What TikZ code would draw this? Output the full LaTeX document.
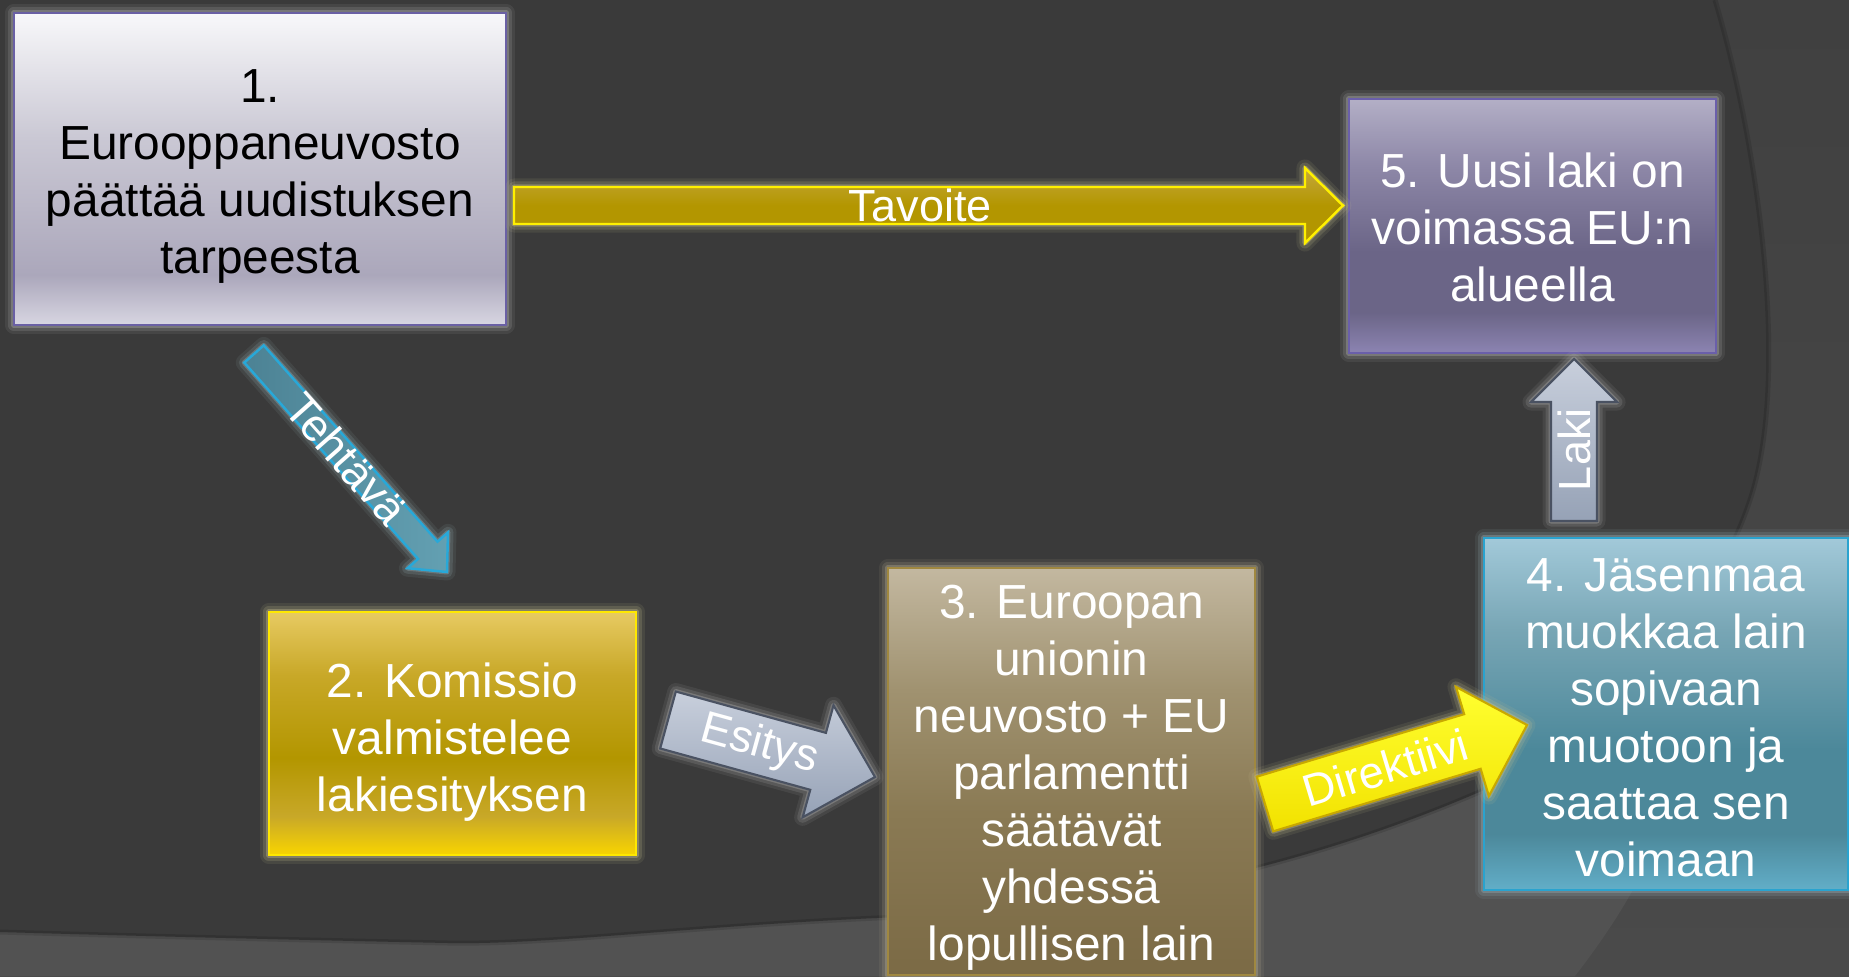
\documentclass[tikz,border=0pt]{standalone}
\usepackage{fontspec}
\setmainfont{Liberation Sans}
\usetikzlibrary{calc}
\definecolor{bgtop}{HTML}{404040}
\definecolor{bgbot}{HTML}{4A4A4A}
\definecolor{bglight}{HTML}{525252}
\definecolor{bgdark}{HTML}{3A3A3A}
% box 1
\definecolor{b1a}{HTML}{F8F8FA}\definecolor{b1b}{HTML}{CAC8D4}\definecolor{b1c}{HTML}{ABA7BB}\definecolor{b1d}{HTML}{D8D6E2}
\definecolor{b1line}{HTML}{6A60A4}
% box 5
\definecolor{b5a}{HTML}{B3AFC6}\definecolor{b5b}{HTML}{8E88A8}\definecolor{b5c}{HTML}{6B6587}\definecolor{b5d}{HTML}{8C84B2}
\definecolor{b5line}{HTML}{6A5FAA}
% box 2
\definecolor{b2a}{HTML}{E7CA62}\definecolor{b2b}{HTML}{C8A828}\definecolor{b2c}{HTML}{B39600}\definecolor{b2d}{HTML}{F9D500}
\definecolor{b2line}{HTML}{FFE800}
% box 3
\definecolor{b3a}{HTML}{C3B8A0}\definecolor{b3b}{HTML}{A09270}\definecolor{b3c}{HTML}{8A7A54}\definecolor{b3d}{HTML}{7B6A45}
\definecolor{b3line}{HTML}{A08840}
% box 4
\definecolor{b4a}{HTML}{A2C9D9}\definecolor{b4b}{HTML}{78A6B5}\definecolor{b4c}{HTML}{4C889A}\definecolor{b4d}{HTML}{62AEC8}
\definecolor{b4line}{HTML}{2AA3CF}
% arrows
\definecolor{gold}{HTML}{B39600}\definecolor{goldtop}{HTML}{C4A83C}\definecolor{goldline}{HTML}{FFF000}
\definecolor{teal}{HTML}{4C8294}\definecolor{teallight}{HTML}{63A0B2}\definecolor{tealline}{HTML}{28A8D8}
\definecolor{steela}{HTML}{C8CFDC}\definecolor{steelb}{HTML}{96A2B6}\definecolor{steelline}{HTML}{4A5262}
\definecolor{yela}{HTML}{FFFF30}\definecolor{yelb}{HTML}{F2E200}\definecolor{yelline}{HTML}{C8A800}
\definecolor{glowgray}{HTML}{B4B4B4}
\definecolor{glowyel}{HTML}{CCC490}
\definecolor{glowbrown}{HTML}{B8AE90}
\definecolor{glowblue}{HTML}{9AB0B8}

\pgfdeclareverticalshading{shboxa}{100bp}{color(0bp)=(b1d); color(25bp)=(b1d); color(33bp)=(b1c); color(55bp)=(b1b); color(75bp)=(b1a); color(100bp)=(b1a)}
\pgfdeclareverticalshading{shboxe}{100bp}{color(0bp)=(b5d); color(25bp)=(b5d); color(33bp)=(b5c); color(45bp)=(b5c); color(62bp)=(b5b); color(75bp)=(b5a); color(100bp)=(b5a)}
\pgfdeclareverticalshading{shboxb}{100bp}{color(0bp)=(b2d); color(25bp)=(b2d); color(33bp)=(b2b); color(45bp)=(b2c); color(62bp)=(b2b); color(75bp)=(b2a); color(100bp)=(b2a)}
\pgfdeclareverticalshading{shboxc}{100bp}{color(0bp)=(b3d); color(25bp)=(b3d); color(45bp)=(b3c); color(60bp)=(b3b); color(75bp)=(b3a); color(100bp)=(b3a)}
\pgfdeclareverticalshading{shboxd}{100bp}{color(0bp)=(b4d); color(25bp)=(b4d); color(33bp)=(b4c); color(45bp)=(b4c); color(62bp)=(b4b); color(75bp)=(b4a); color(100bp)=(b4a)}

% lowered centred block of lines (keeps the node size)
\newcommand\lowtext[2]{\raisebox{-#1}[\height][\depth]{\begin{tabular}{@{}c@{}}#2\end{tabular}}}

\tikzset{
  glow/.style={preaction={draw=#1,line width=0.17cm,opacity=0.10,line join=round},
               preaction={draw=#1,line width=0.11cm,opacity=0.18,line join=round},
               preaction={draw=#1,line width=0.05cm,opacity=0.35,line join=round}},
  box/.style={rectangle, inner sep=0pt, line width=0.6pt, text=white,
              font=\fontsize{13.6pt}{16.2pt}\selectfont},
  arrtxt/.style={text=white, inner sep=0pt, font=\fontsize{12.8pt}{15pt}\selectfont},
  tavoitearrow/.style={glow=glowyel, top color=goldtop, bottom color=gold, middle color=gold, draw=goldline, line width=0.7pt},
  tehtavaarrow/.style={glow=glowblue, left color=teal, right color=teallight, draw=tealline, line width=0.7pt},
  steelarrow/.style={glow=glowgray, top color=steela, bottom color=steelb, draw=steelline, line width=0.6pt},
  yelarrow/.style={glow=glowyel, top color=yela, bottom color=yelb, draw=yelline, line width=0.6pt},
}

% #1 style, #2 tail, #3 tip, #4 half shaft, #5 half head, #6 head length, #7 label name, #8 label position, #9 text
\newcommand\blockarrow[9]{%
  \coordinate (ba-b) at ($(#3)!#6!(#2)$);
  \path[#1] ($(#2)!#4!90:(#3)$) -- ($(ba-b)!#4!-90:(#2)$) -- ($(ba-b)!#5!-90:(#2)$) -- (#3)
     -- ($(ba-b)!#5!90:(#2)$) -- ($(ba-b)!#4!90:(#2)$) -- ($(#2)!#4!-90:(#3)$) -- cycle;
  \path let \p1=($(#3)-(#2)$), \n1={atan2(\y1,\x1)} in
     node[arrtxt, rotate=\n1] (#7) at ($(#2)!#8!(#3)$) {#9};
}

\begin{document}
\begin{tikzpicture}[x=0.01cm,y=-0.01cm]
\useasboundingbox (0,0) rectangle (1849,976);
\clip (0,0) rectangle (1849,976);
% background
\shade[top color=bgtop, bottom color=bgbot] (0,0) rectangle (1849,976);
\fill[bglight] (0,600) -- (1690,600) .. controls (1700,760) and (1665,860) .. (1575,976) -- (0,976) -- cycle;
\fill[bgdark] (0,0) -- (1715,0) .. controls (1760,150) and (1790,380) .. (1750,500)
   .. controls (1710,620) and (1610,720) .. (1484,790)
   .. controls (1300,870) and (1100,912) .. (900,917)
   .. controls (700,925) and (550,945) .. (448,943)
   .. controls (300,940) and (100,935) .. (0,932) -- cycle;
\draw[black, opacity=0.12, line width=0.05cm] (1715,0) .. controls (1760,150) and (1790,380) .. (1750,500)
   .. controls (1710,620) and (1610,720) .. (1484,790)
   .. controls (1300,870) and (1100,912) .. (900,917)
   .. controls (700,925) and (550,945) .. (448,943)
   .. controls (300,940) and (100,935) .. (0,932);

% boxes
\node[box, glow=glowgray, shading=shboxa, draw=b1line, text=black,
      minimum width=4.92cm, minimum height=3.12cm] (n1) at (260,169)
  {\lowtext{0.075cm}{1.\\Eurooppaneuvosto\\päättää uudistuksen\\tarpeesta}};
\node[box, glow=glowgray, shading=shboxe, draw=b5line,
      minimum width=3.67cm, minimum height=2.54cm] (n5) at (1532.5,226)
  {\lowtext{0.07cm}{5. Uusi laki on\\voimassa EU:n\\alueella}};
\node[box, glow=glowyel, shading=shboxb, draw=b2line,
      minimum width=3.67cm, minimum height=2.43cm] (n2) at (452.5,733.5)
  {\lowtext{0.10cm}{2. Komissio\\valmistelee\\lakiesityksen}};
\node[box, glow=glowbrown, shading=shboxc, draw=b3line,
      minimum width=3.67cm, minimum height=4.07cm] (n3) at (1071.5,771.5)
  {\lowtext{0.07cm}{3. Euroopan\\unionin\\neuvosto + EU\\parlamentti\\säätävät\\yhdessä\\lopullisen lain}};
\node[box, glow=glowblue, shading=shboxd, draw=b4line,
      minimum width=3.64cm, minimum height=3.52cm] (n4) at (1666,714)
  {\lowtext{0.085cm}{4. Jäsenmaa\\muokkaa lain\\sopivaan\\muotoon ja\\saattaa sen\\voimaan}};

% arrow end points
\coordinate (t1) at (514,205.5);  \coordinate (p1) at (1343,205.5);
\coordinate (t2) at (254,354);    \coordinate (p2) at (447,572);
\coordinate (t3) at (668,720);    \coordinate (p3) at (875,777);
\coordinate (t4) at (1265,804);   \coordinate (p4) at (1527,725);
\coordinate (t5) at (1574,521);   \coordinate (p5) at (1574,359);

\blockarrow{tavoitearrow}{t1}{p1}{0.185cm}{0.375cm}{0.38cm}{l1}{0.49}{Tavoite}
\blockarrow{tehtavaarrow}{t2}{p2}{0.13cm}{0.27cm}{0.29cm}{l2}{0.48}{Tehtävä}
\blockarrow{steelarrow}{t3}{p3}{0.295cm}{0.58cm}{0.59cm}{l3}{0.44}{Esitys}
\blockarrow{yelarrow}{t4}{p4}{0.285cm}{0.57cm}{0.57cm}{l4}{0.46}{Direktiivi}
\blockarrow{steelarrow}{t5}{p5}{0.23cm}{0.43cm}{0.43cm}{l5}{0.44}{Laki}
\end{tikzpicture}
\end{document}
